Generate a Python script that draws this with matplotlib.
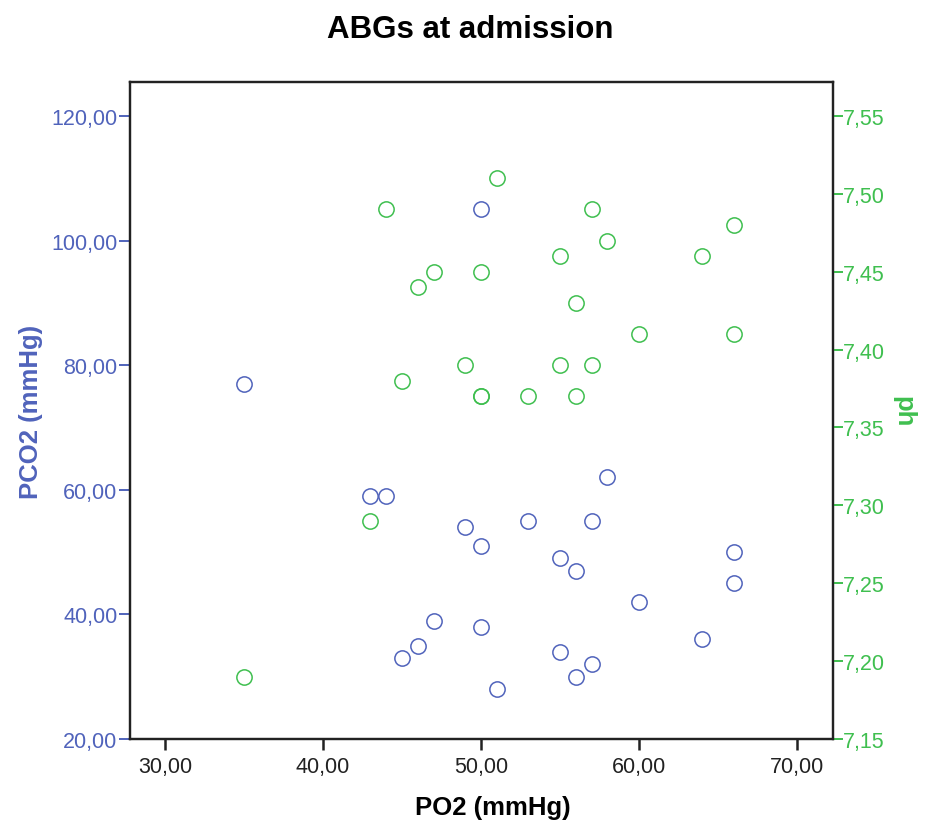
import matplotlib
matplotlib.use("Agg")
import matplotlib.pyplot as plt
from matplotlib.ticker import FuncFormatter

plt.rcParams['font.family'] = ['Liberation Sans', 'DejaVu Sans']

# PO2 vs PCO2 (blue)
po2_pco2 = [35, 50, 43, 44, 58, 49, 53, 57, 50, 55, 56, 66, 66, 60, 47, 50,
            64, 46, 45, 55, 57, 56, 51]
pco2 = [77, 105, 59, 59, 62, 54, 55, 55, 51, 49, 47, 50, 45, 42, 39, 38,
        36, 35, 33, 34, 32, 30, 28]

# PO2 vs ph (green)
po2_ph = [51, 44, 57, 66, 58, 55, 64, 47, 50, 46, 56, 60, 66, 49, 55, 57,
          45, 50, 50, 53, 56, 43, 35]
ph = [7.51, 7.49, 7.49, 7.48, 7.47, 7.46, 7.46, 7.45, 7.45, 7.44, 7.43, 7.41,
      7.41, 7.39, 7.39, 7.39, 7.38, 7.37, 7.37, 7.37, 7.37, 7.29, 7.19]

x_ticks = [30, 40, 50, 60, 70]
pco2_ticks = [20, 40, 60, 80, 100, 120]
ph_ticks = [7.15, 7.20, 7.25, 7.30, 7.35, 7.40, 7.45, 7.50, 7.55]

blue = '#5063bb'
green = '#3fbf4f'

fig = plt.figure(figsize=(9.26, 8.37), dpi=100)
ax = fig.add_axes([0.1404, 0.1159, 0.7592, 0.7849])
ax2 = ax.twinx()

ax.plot(po2_pco2, pco2, 'o', ms=11, mfc='none', mec=blue, mew=1.1)
ax2.plot(po2_ph, ph, 'o', ms=11, mfc='none', mec=green, mew=1.1)

ax.set_xlim(27.78, 72.28)
ax.set_ylim(20, 125.46)
ax2.set_ylim(7.15, 7.5718)

ax.set_xticks(x_ticks)
ax.set_yticks(pco2_ticks)
ax2.set_yticks(ph_ticks)

comma2 = FuncFormatter(lambda v, p: f"{v:.2f}".replace('.', ','))
ax.xaxis.set_major_formatter(comma2)
ax.yaxis.set_major_formatter(comma2)
ax2.yaxis.set_major_formatter(comma2)

for a in (ax, ax2):
    for s in a.spines.values():
        s.set_linewidth(1.6)
        s.set_color('#222222')

ax.tick_params(axis='x', length=8, width=1.8, color='#222222',
               labelsize=15.5, labelcolor='#222222', pad=4)
ax.tick_params(axis='y', length=8, width=1.4, color=blue,
               labelsize=15.5, labelcolor=blue, pad=1)
ax2.tick_params(axis='y', length=7, width=1.4, color=green,
                labelsize=15.5, labelcolor=green, pad=0)

ax.set_xlabel('PO2 (mmHg)', fontsize=18.5, fontweight='bold', labelpad=14)
ax.xaxis.set_label_coords(0.516, -0.085)
ax.set_ylabel('PCO2 (mmHg)', fontsize=18.5, fontweight='bold', color=blue,
              labelpad=6)
ax2.set_ylabel('ph', fontsize=18.5, fontweight='bold', color=green,
               rotation=270, labelpad=22)
fig.text(470 / 926, 1 - 30 / 837, 'ABGs at admission', fontsize=22.5,
         fontweight='bold', ha='center', va='center')

fig.savefig('out.png', dpi=100)
